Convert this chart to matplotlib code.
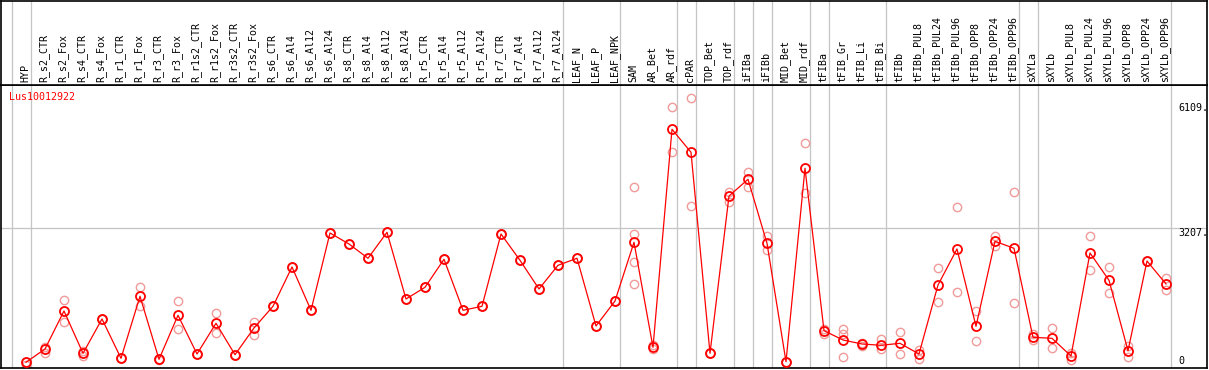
import matplotlib
matplotlib.use('Agg')
import matplotlib.pyplot as plt

# sample labels (x axis)
labels = ['HYP', 'R_s2_CTR', 'R_s2_Fox', 'R_s4_CTR', 'R_s4_Fox', 'R_r1_CTR', 'R_r1_Fox',
          'R_r3_CTR', 'R_r3_Fox', 'R_r1s2_CTR', 'R_r1s2_Fox', 'R_r3s2_CTR', 'R_r3s2_Fox',
          'R_s6_CTR', 'R_s6_Al4', 'R_s6_Al12', 'R_s6_Al24', 'R_s8_CTR', 'R_s8_Al4',
          'R_s8_Al12', 'R_s8_Al24', 'R_r5_CTR', 'R_r5_Al4', 'R_r5_Al12', 'R_r5_Al24',
          'R_r7_CTR', 'R_r7_Al4', 'R_r7_Al12', 'R_r7_Al24', 'LEAF_N', 'LEAF_P', 'LEAF_NPK',
          'SAM', 'AR_Bet', 'AR_rdf', 'cPAR', 'TOP_Bet', 'TOP_rdf', 'iFIBa', 'iFIBb',
          'MID_Bet', 'MID_rdf', 'tFIBa', 'tFIB_Gr', 'tFIB_Li', 'tFIB_Bi', 'tFIBb',
          'tFIBb_PUL8', 'tFIBb_PUL24', 'tFIBb_PUL96', 'tFIBb_OPP8', 'tFIBb_OPP24',
          'tFIBb_OPP96', 'sXYLa', 'sXYLb', 'sXYLb_PUL8', 'sXYLb_PUL24', 'sXYLb_PUL96',
          'sXYLb_OPP8', 'sXYLb_OPP24', 'sXYLb_OPP96']

# mean expression per sample
means = [86, 395, 1278, 295, 1092, 179, 1619, 156, 1178, 279, 992, 262, 883,
         1387, 2300, 1294, 3089, 2834, 2502, 3106, 1556, 1828, 2479, 1294, 1387,
         3066, 2455, 1789, 2339, 2502, 929, 1510, 2873, 434, 5498, 4964, 295,
         3949, 4337, 2850, 100, 4592, 820, 604, 511, 481, 527, 279, 1882, 2718,
         922, 2897, 2734, 667, 643, 232, 2625, 1991, 355, 2439, 1905]

# replicate values per sample
reps = [[93, 23], [448, 309], [1533, 1015], [355, 232], [1092, 1092], [179, 179],
        [1828, 1394], [150, 165], [1510, 852], [279, 279], [1231, 760], [262, 262],
        [1029, 727], [1387, 1387], [2300, 2300], [1294, 1294], [3089, 3089],
        [2834, 2834], [2502, 2502], [3106, 3106], [1556, 1556], [1828, 1828],
        [2479, 2479], [1294, 1294], [1387, 1387], [3066, 3066], [2455, 2455],
        [1789, 1789], [2339, 2339], [2502, 2502], [929, 929], [1510, 1510],
        [4151, 3066, 2409, 1905], [488, 395], [6009, 4964], [6218, 3710], [295, 295],
        [4049, 3817], [4506, 4158], [3020, 2695], [100, 100], [5173, 4012],
        [852, 743], [852, 743, 209], [534, 465], [634, 388], [783, 272], [372, 156],
        [2269, 1480], [3686, 1712], [1271, 574], [3020, 2787], [4035, 1456],
        [743, 604], [883, 411], [309, 139], [3020, 2230], [2300, 1689], [465, 216],
        [2439, 2439], [2037, 1765]]

# last sample index of each group (-1 = left edge)
group_ends = [-1, 0, 28, 31, 34, 35, 37, 38, 39, 41, 42, 45, 52, 53, 60]

gene = 'Lus10012922'
yticks = [0, 3207, 6109]
ytick_labels = ['0', '3207.', '6109.']

W, H = 1209, 370
fig = plt.figure(figsize=(W / 100, H / 100), dpi=100)
font = 'DejaVu Sans Mono'
fs = 7.2
grey = '#c4c4c4'

xmin = -25 / 19
xmax = xmin + 1206 / 19

# data area
ax = fig.add_axes([1 / W, 2 / H, 1206 / W, 283 / H])
ax.set_xlim(xmin, xmax)
ax.set_ylim(-46.5, 6527)
for k in group_ends:
    ax.axvline(k + 0.25, color=grey, lw=0.9, zorder=1)
ax.axhline(3207, color=grey, lw=0.9, zorder=1)

xs = list(range(len(labels)))
for i, r in enumerate(reps):
    ax.plot([i] * len(r), r, 'o', ms=6, mfc='none', mec='#f09a9a', mew=1.0, zorder=2)
ax.plot(xs, means, '-', color='red', lw=0.9, zorder=3)
ax.plot(xs, means, 'o', ms=6.5, mfc='none', mec='red', mew=1.3, zorder=4)

ax.text(8 / 1206, 1 - 12 / 283, gene, transform=ax.transAxes, color='red',
        family=font, fontsize=fs, va='center', ha='left')

xlab = xmin + (1178 - 1) / 19
for v, t in zip(yticks, ytick_labels):
    ax.text(xlab, v, t, family=font, fontsize=fs, ha='left',
            va='bottom' if v == 0 else 'top', zorder=5)

ax.set_xticks([])
ax.set_yticks([])
for s in ax.spines.values():
    s.set_color('black')
    s.set_linewidth(1.2)

# header with sample names
hx = fig.add_axes([1 / W, 285 / H, 1206 / W, 84 / H])
hx.set_xlim(xmin, xmax)
hx.set_ylim(0, 84)
for k in group_ends:
    hx.axvline(k + 0.25, color=grey, lw=0.9, zorder=1)
for i, name in enumerate(labels):
    hx.text(i - 0.05, 3, name, rotation=90, family=font, fontsize=fs,
            ha='center', va='bottom')
hx.set_xticks([])
hx.set_yticks([])
for s in hx.spines.values():
    s.set_color('black')
    s.set_linewidth(1.2)

fig.savefig('out.png', dpi=100)
